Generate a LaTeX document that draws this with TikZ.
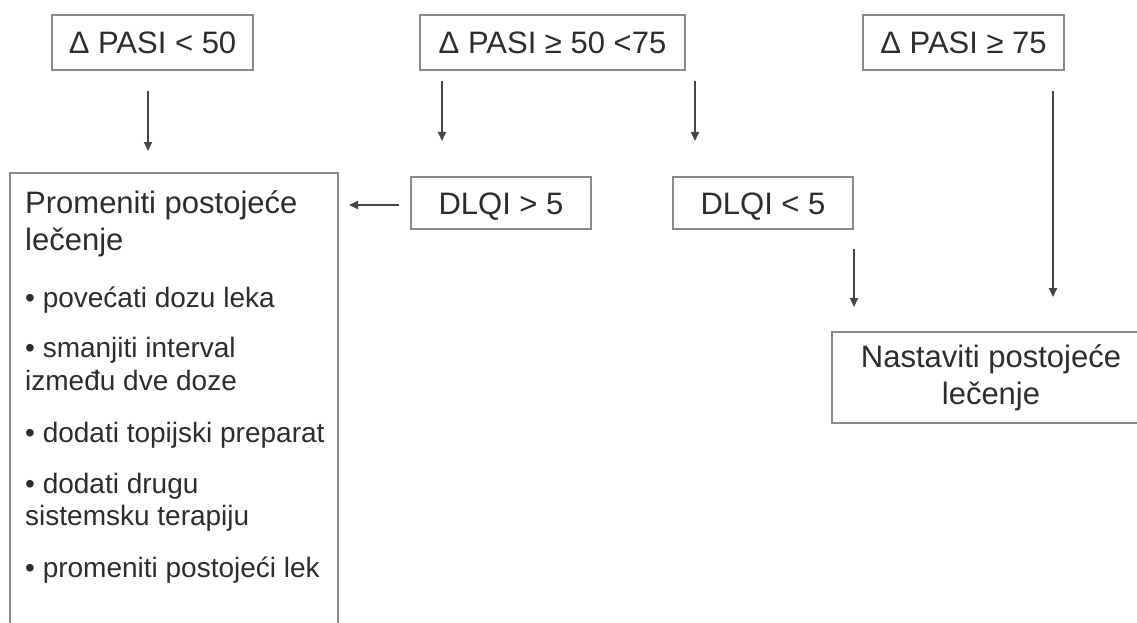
\documentclass[tikz,border=0pt]{standalone}
\usepackage{fontspec}
\setmainfont{Liberation Sans}
\usetikzlibrary{arrows.meta}
\definecolor{boxline}{RGB}{138,138,138}
\definecolor{arrline}{RGB}{70,70,70}
\definecolor{ink}{RGB}{45,45,45}
\tikzset{
  box/.style={draw=boxline, line width=2pt, inner sep=0pt, text=ink,
    font=\fontsize{31}{37}\selectfont, text height=22pt, text depth=0pt},
  arr/.style={draw=arrline, line width=1.8pt,
    -{Triangle[length=9pt,width=8pt]}},
  head/.style={anchor=base west, inner sep=0pt, text=ink,
    font=\fontsize{31}{37}\selectfont},
  item/.style={anchor=base west, inner sep=0pt, text=ink,
    font=\fontsize{28}{33}\selectfont},
}
\begin{document}
\begin{tikzpicture}[x=1pt,y=-1pt]
\useasboundingbox (0,0) rectangle (1137,623);
\clip (0,0) rectangle (1137,623);
\fill[white] (0,0) rectangle (1137,623);

% top row: PASI response classes
\node[box, minimum width=201pt, minimum height=55pt] (b1) at (152.5,42.5) {Δ PASI < 50};
\node[box, minimum width=265pt, minimum height=55pt] (b2) at (552.5,42.5) {Δ PASI ≥ 50 <75};
\node[box, minimum width=201pt, minimum height=55pt] (b3) at (963.5,42.5) {Δ PASI ≥ 75};

% DLQI split
\node[box, minimum width=180pt, minimum height=52pt] (d5) at (501,203) {DLQI > 5};
\node[box, minimum width=180pt, minimum height=52pt] (dl) at (763,203) {DLQI < 5};

% outcome boxes
\node[draw=boxline, line width=2pt, minimum width=328pt, minimum height=477pt, inner sep=0pt] (big) at (174,411.5) {};
\node[draw=boxline, line width=2pt, minimum width=318pt, minimum height=91pt, inner sep=0pt,
  text=ink, align=center, font=\fontsize{31}{37}\selectfont] (nast) at (991,377.5)
  {Nastaviti postojeće\\lečenje};

% text of the left outcome box
\node[head] (h1) at (25,213) {Promeniti postojeće};
\node[head] (h2) at (25,250) {lečenje};
\node[item] (i1) at (25,307) {• povećati dozu leka};
\node[item] (i2) at (25,357) {• smanjiti interval};
\node[item] (i2b) at (25,390) {između dve doze};
\node[item] (i3) at (25,442) {• dodati topijski preparat};
\node[item] (i4) at (25,493) {• dodati drugu};
\node[item] (i4b) at (25,525) {sistemsku terapiju};
\node[item] (i5) at (25,577) {• promeniti postojeći lek};

% connectors
\draw[arr, shorten <=20pt, shorten >=21pt] ([xshift=-4.5pt]b1.south) -- ([xshift=-4.5pt]b1.south |- big.north);
\draw[arr, shorten <=10pt, shorten >=35pt] ([xshift=-110.5pt]b2.south) -- ([xshift=-110.5pt]b2.south |- d5.north);
\draw[arr, shorten <=10pt, shorten >=35pt] ([xshift=142.5pt]b2.south) -- ([xshift=142.5pt]b2.south |- dl.north);
\draw[arr, shorten <=11pt, shorten >=10pt] ([yshift=-2pt]d5.west) -- ([yshift=-2pt]d5.west -| big.east);
\draw[arr, shorten <=19pt, shorten >=24pt] (dl.south east) -- (dl.south east |- nast.north);
\draw[arr, shorten <=20pt, shorten >=34pt] ([xshift=89.5pt]b3.south) -- ([xshift=89.5pt]b3.south |- nast.north);
\end{tikzpicture}
\end{document}
